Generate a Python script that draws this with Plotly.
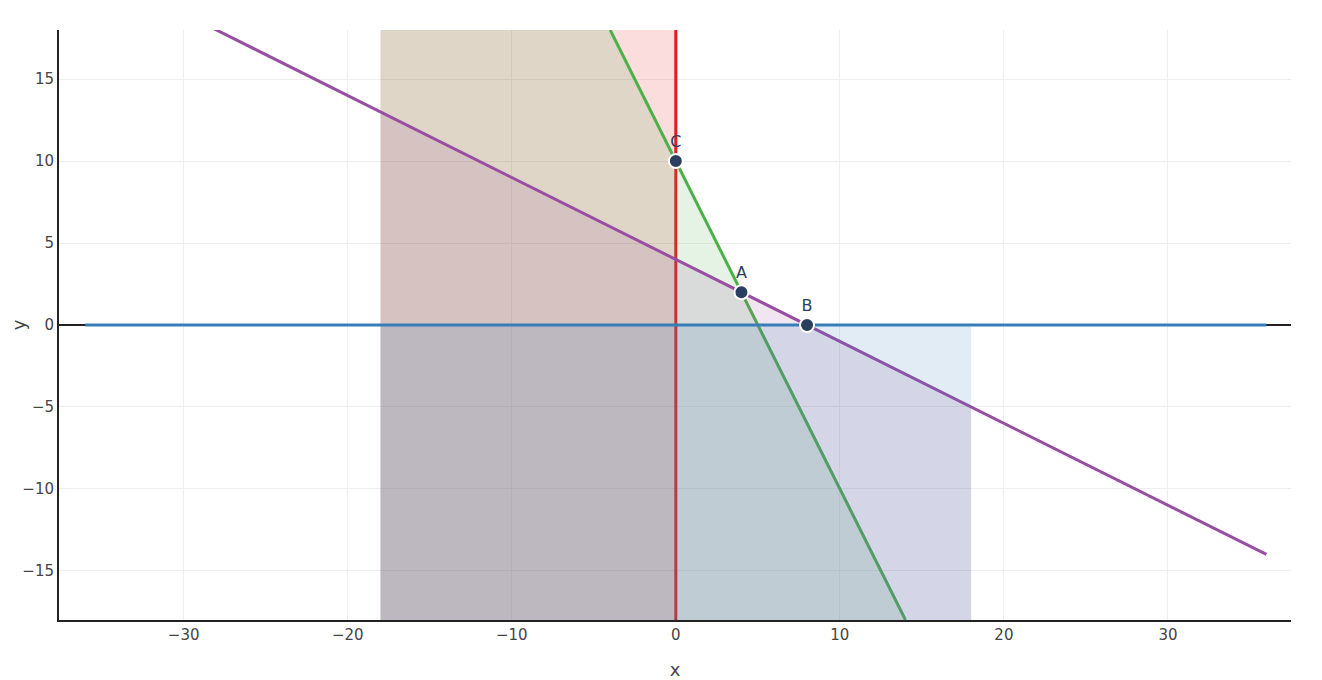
import plotly.graph_objects as go

# constraint lines (a*x + b*y = c)
line_names = ["x = 0", "2x + y = 10", "x + 2y = 8", "y = 0"]
line_colors = ["#e41a1c", "#4daf4a", "#984ea3", "#377eb8"]
fill_colors = ["rgba(228,26,28,0.15)", "rgba(77,175,74,0.15)", "rgba(152,78,163,0.15)", "rgba(55,126,184,0.15)"]

# line endpoints
red_x = [0, 0]; red_y = [-18, 18]
green_x = [-4, 14]; green_y = [18, -18]
purple_x = [-36, 36]; purple_y = [22, -14]
blue_x = [-36, 36]; blue_y = [0, 0]

# feasible half-planes clipped to box [-18,18]
red_fx = [-18, 0, 0, -18, -18]; red_fy = [-18, -18, 18, 18, -18]
green_fx = [-18, 14, -4, -18, -18]; green_fy = [-18, -18, 18, 18, -18]
purple_fx = [-18, 18, 18, -18, -18]; purple_fy = [-18, -18, -5, 13, -18]
blue_fx = [-18, 18, 18, -18, -18]; blue_fy = [-18, -18, 0, 0, -18]

pt_labels = ["A", "B", "C"]
pt_x = [4, 8, 0]
pt_y = [2, 0, 10]

lines = [(red_x, red_y), (green_x, green_y), (purple_x, purple_y), (blue_x, blue_y)]
fills = [(red_fx, red_fy), (green_fx, green_fy), (purple_fx, purple_fy), (blue_fx, blue_fy)]

fig = go.Figure()
for i in range(4):
    fx, fy = fills[i]
    fig.add_trace(go.Scatter(x=fx, y=fy, mode="lines", fill="toself", fillcolor=fill_colors[i],
                             line=dict(width=0), hoverinfo="skip", showlegend=False))
    lx, ly = lines[i]
    fig.add_trace(go.Scatter(x=lx, y=ly, mode="lines", name=line_names[i],
                             line=dict(color=line_colors[i], width=3), showlegend=False))

fig.add_trace(go.Scatter(x=pt_x, y=pt_y, mode="markers+text", text=pt_labels, textposition="top center",
                         textfont=dict(size=16, color="#2a3f5f"),
                         marker=dict(size=14, color="#2a3f5f", line=dict(color="white", width=2)),
                         showlegend=False))

axis_common = dict(showgrid=True, gridcolor="#eeeeee", zeroline=True, zerolinecolor="#222222", zerolinewidth=2,
                   showline=True, linecolor="#222222", linewidth=2, ticks="", automargin=False,
                   tickfont=dict(size=15, color="#444"), title_font=dict(size=18, color="#444"))
fig.update_layout(
    width=1314, height=672,
    margin=dict(l=51, r=31, t=22, b=60),
    plot_bgcolor="white", paper_bgcolor="white",
    font=dict(family="DejaVu Sans"),
    xaxis=dict(range=[-37.6, 37.5], title_text="x", title_standoff=21, dtick=10, **axis_common),
    yaxis=dict(range=[-18.0, 18.0], title_text="y", title_standoff=28, dtick=5, **axis_common),
)
fig.write_html("out.html")
